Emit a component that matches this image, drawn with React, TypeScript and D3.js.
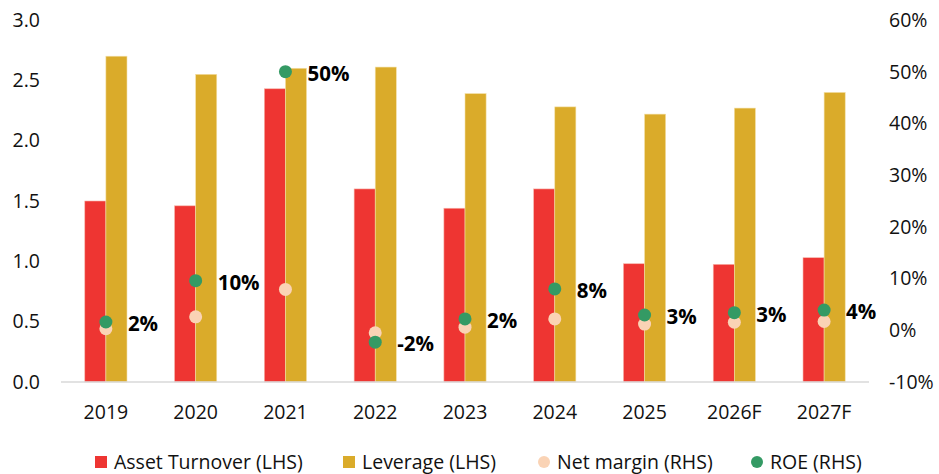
import React, { useEffect, useRef } from "react";
import * as d3 from "d3";

const categories = ["2019", "2020", "2021", "2022", "2023", "2024", "2025", "2026F", "2027F"];
const assetTurnover = [1.50, 1.46, 2.43, 1.60, 1.44, 1.60, 0.98, 0.975, 1.03];
const leverage = [2.70, 2.55, 2.60, 2.61, 2.39, 2.28, 2.22, 2.27, 2.40];
const netMargin = [0.3, 2.6, 7.9, -0.5, 0.6, 2.2, 1.2, 1.55, 1.7];
const roe = [1.6, 9.6, 50, -2.3, 2.2, 8.0, 2.96, 3.4, 3.9];
const leftTicks = [0, 0.5, 1, 1.5, 2, 2.5, 3];
const rightTicks = [-10, 0, 10, 20, 30, 40, 50, 60];

const W = 939;
const H = 474;
const FONT = "'Open Sans', 'Noto Sans', sans-serif";
const FS = "19.5px";
const RED = "#EE3532";
const GOLD = "#DAAB2A";
const GREEN = "#349A64";
const PEACH = "#FAD3B5";

const legend = [
    { label: "Asset Turnover (LHS)", color: RED, shape: "rect", x: 95 },
    { label: "Leverage (LHS)", color: GOLD, shape: "rect", x: 343 },
    { label: "Net margin (RHS)", color: PEACH, shape: "circle", x: 538 },
    { label: "ROE (RHS)", color: GREEN, shape: "circle", x: 751 },
];

// hyphen minus, as in the source
const pct = (v: number) => `${Math.round(v)}%`;

export default function App() {
    const ref = useRef<SVGSVGElement>(null);

    useEffect(() => {
        const svg = d3.select(ref.current);
        svg.selectAll("*").remove();

        const x = d3.scaleBand().domain(categories).range([61, 869]);
        const yL = d3.scaleLinear().domain([0, 3]).range([382, 20]);
        const yR = d3.scaleLinear().domain([-10, 60]).range([382, 20]);
        const barW = x.bandwidth() * 0.235;
        const cx = (c: string) => (x(c) ?? 0) + x.bandwidth() / 2;

        // left axis labels
        svg.append("g")
            .selectAll("text")
            .data(leftTicks)
            .join("text")
            .attr("x", 40)
            .attr("y", d => yL(d))
            .attr("dy", "0.35em")
            .attr("text-anchor", "end")
            .style("font-family", FONT)
            .style("font-size", FS)
            .attr("fill", "#111")
            .text(d => d3.format(".1f")(d));

        // right axis labels
        svg.append("g")
            .selectAll("text")
            .data(rightTicks)
            .join("text")
            .attr("x", 889)
            .attr("y", d => yR(d))
            .attr("dy", "0.35em")
            .style("font-family", FONT)
            .style("font-size", FS)
            .attr("fill", "#111")
            .text(d => `${d}%`);

        const bars = svg.append("g");
        bars.selectAll(".at")
            .data(categories)
            .join("rect")
            .attr("class", "at")
            .attr("x", d => cx(d) - barW)
            .attr("width", barW)
            .attr("y", (d, i) => yL(assetTurnover[i]))
            .attr("height", (d, i) => yL(0) - yL(assetTurnover[i]))
            .attr("fill", RED)
            .attr("stroke", "#F7B3A8")
            .attr("stroke-width", 0.6);
        bars.selectAll(".lev")
            .data(categories)
            .join("rect")
            .attr("class", "lev")
            .attr("x", d => cx(d))
            .attr("width", barW)
            .attr("y", (d, i) => yL(leverage[i]))
            .attr("height", (d, i) => yL(0) - yL(leverage[i]))
            .attr("fill", GOLD)
            .attr("stroke", "#F3E0A8")
            .attr("stroke-width", 0.6);

        // baseline
        svg.append("line")
            .attr("x1", 61).attr("x2", 869)
            .attr("y1", yL(0)).attr("y2", yL(0))
            .attr("stroke", "#D9D9D9")
            .attr("stroke-width", 1.5);

        // category labels
        svg.append("g")
            .selectAll("text")
            .data(categories)
            .join("text")
            .attr("x", d => cx(d))
            .attr("y", 412)
            .attr("dy", "0.35em")
            .attr("text-anchor", "middle")
            .style("font-family", FONT)
            .style("font-size", FS)
            .attr("fill", "#111")
            .text(d => d);

        const dots = svg.append("g");
        dots.selectAll(".nm")
            .data(categories)
            .join("circle")
            .attr("class", "nm")
            .attr("cx", d => cx(d))
            .attr("cy", (d, i) => yR(netMargin[i]))
            .attr("r", 6.5)
            .attr("fill", PEACH);
        dots.selectAll(".roe")
            .data(categories)
            .join("circle")
            .attr("class", "roe")
            .attr("cx", d => cx(d))
            .attr("cy", (d, i) => yR(roe[i]))
            .attr("r", 6.5)
            .attr("fill", GREEN);
        dots.selectAll(".roe-label")
            .data(categories)
            .join("text")
            .attr("class", "roe-label")
            .attr("x", d => cx(d) + 22)
            .attr("y", (d, i) => yR(roe[i]) + 2)
            .attr("dy", "0.35em")
            .style("font-family", FONT)
            .style("font-size", "20.5px")
            .style("font-weight", "bold")
            .attr("fill", "#000")
            .text((d, i) => pct(roe[i]));

        // legend
        const lg = svg.append("g")
            .selectAll("g")
            .data(legend)
            .join("g")
            .attr("transform", d => `translate(${d.x}, 462)`);
        lg.filter(d => d.shape === "rect")
            .append("rect")
            .attr("x", 0).attr("y", -6)
            .attr("width", 12).attr("height", 12)
            .attr("fill", d => d.color);
        lg.filter(d => d.shape === "circle")
            .append("circle")
            .attr("cx", 6).attr("cy", 0).attr("r", 6)
            .attr("fill", d => d.color);
        lg.append("text")
            .attr("x", 19)
            .attr("dy", "0.35em")
            .style("font-family", FONT)
            .style("font-size", FS)
            .attr("fill", "#111")
            .text(d => d.label);
    }, []);

    return <svg
        ref={ref}
        width={W}
        height={H}
        style={{ position: "absolute", left: 0, top: 0, background: "#fff" }}
    />;
}
